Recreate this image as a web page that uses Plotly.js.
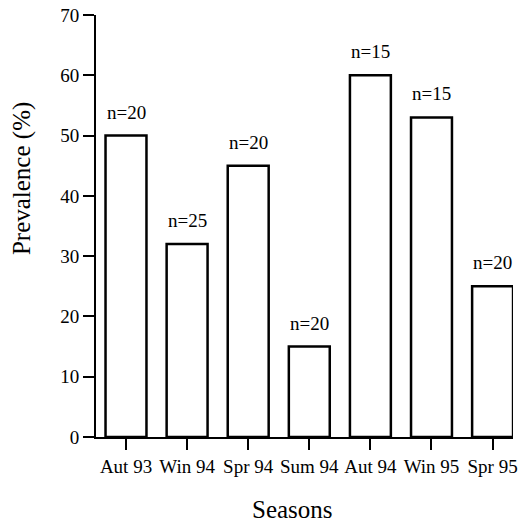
<!DOCTYPE html>
<html>
<head>
<meta charset="utf-8">
<script src="https://cdn.plot.ly/plotly-3.0.1.min.js"></script>
<style>html,body{margin:0;padding:0;background:#fff;}#chart{width:520px;height:524px;}</style>
</head>
<body>
<div id="chart"></div>
<script>
var seasons = ["Aut 93", "Win 94", "Spr 94", "Sum 94", "Aut 94", "Win 95", "Spr 95"];
var prevalence = [50, 32, 45, 15, 60, 53, 25];
var sampleSizes = [20, 25, 20, 20, 15, 15, 20];
var yTicks = [0, 10, 20, 30, 40, 50, 60, 70];

var FONT = 'Liberation Serif';
var idx = seasons.map(function (s, i) { return i; });

var trace = {
  type: 'bar',
  x: idx,
  y: prevalence,
  width: 0.67,
  marker: { color: '#ffffff', line: { color: '#000000', width: 2.5 } },
  hoverinfo: 'x+y'
};

var annotations = idx.map(function (i) {
  return {
    x: i, y: prevalence[i], xref: 'x', yref: 'y',
    text: 'n=' + sampleSizes[i],
    showarrow: false, xanchor: 'center', yanchor: 'bottom', yshift: 11,
    font: { family: FONT, size: 19, color: '#000' }
  };
});
annotations.push({
  xref: 'paper', yref: 'paper', x: -0.176, y: 0.6126,
  text: 'Prevalence (%)', textangle: -90, showarrow: false,
  xanchor: 'center', yanchor: 'middle',
  font: { family: FONT, size: 25, color: '#000' }
});
annotations.push({
  xref: 'paper', yref: 'paper', x: 0.471, y: -0.172,
  text: 'Seasons', showarrow: false,
  xanchor: 'center', yanchor: 'middle',
  font: { family: FONT, size: 25, color: '#000' }
});

var layout = {
  width: 520, height: 524,
  margin: { l: 96, r: 7, t: 15, b: 87, pad: 0 },
  paper_bgcolor: '#fff', plot_bgcolor: '#fff',
  showlegend: false,
  font: { family: FONT, color: '#000' },
  xaxis: {
    range: [-0.491, 6.334],
    tickmode: 'array', tickvals: idx, ticktext: seasons,
    ticks: 'outside', ticklen: 11, tickwidth: 2, tickcolor: '#000',
    showline: true, linecolor: '#000', linewidth: 2,
    showgrid: false, zeroline: false,
    tickfont: { family: FONT, size: 19, color: '#000' },
    fixedrange: true
  },
  yaxis: {
    range: [0, 70],
    tickmode: 'array', tickvals: yTicks, ticktext: yTicks.map(String),
    ticks: 'outside', ticklen: 11, tickwidth: 2, tickcolor: '#000',
    showline: true, linecolor: '#000', linewidth: 2,
    showgrid: false, zeroline: false,
    tickfont: { family: FONT, size: 19, color: '#000' },
    fixedrange: true
  },
  annotations: annotations
};

Plotly.newPlot('chart', [trace], layout, { displayModeBar: false, staticPlot: true });
</script>
</body>
</html>
